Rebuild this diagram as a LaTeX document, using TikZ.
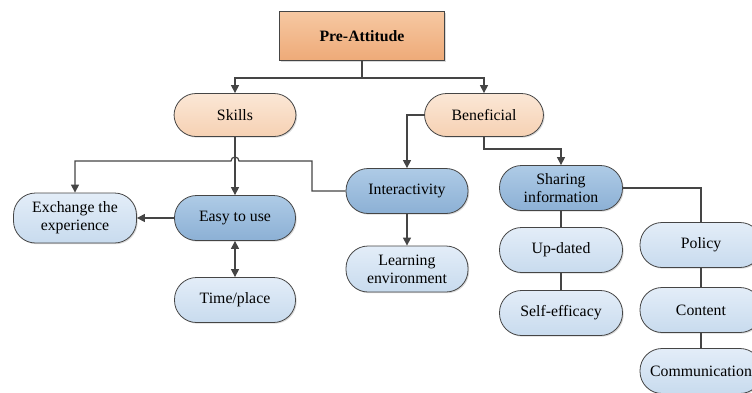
\documentclass[tikz,border=0pt]{standalone}
\usepackage{fontspec}
\setmainfont{Liberation Serif}
\usetikzlibrary{arrows.meta,shadows}

\definecolor{lineGray}{HTML}{454545}
\definecolor{preTop}{HTML}{F6C8A2}
\definecolor{preBot}{HTML}{EEAA78}
\definecolor{peachTop}{HTML}{FBE7D6}
\definecolor{peachBot}{HTML}{F6D1B3}
\definecolor{dblueTop}{HTML}{AECBE6}
\definecolor{dblueBot}{HTML}{8CB0D5}
\definecolor{lblueTop}{HTML}{E3EDF8}
\definecolor{lblueBot}{HTML}{C8DBEE}

\begin{document}
\begin{tikzpicture}[x=1pt, y=-1pt, node distance=62pt,
  base/.style={draw=lineGray, line width=0.8pt, align=center,
    font=\fontsize{15.8}{18.3}\selectfont,
    drop shadow={shadow xshift=1.2pt, shadow yshift=-1.2pt, opacity=0.3}},
  topbox/.style={base, minimum width=165pt, minimum height=49pt,
    top color=preTop, bottom color=preBot,
    font=\fontsize{15.8}{18.3}\selectfont\bfseries},
  pill/.style={base, rounded corners=22pt, minimum width=122pt, minimum height=45pt},
  peach/.style={pill, top color=peachTop, bottom color=peachBot},
  darkblue/.style={pill, top color=dblueTop, bottom color=dblueBot},
  lightblue/.style={pill, top color=lblueTop, bottom color=lblueBot},
  link/.style={draw=lineGray, line width=1.2pt},
  arr/.style={link, -{Triangle[length=8pt,width=8pt]}},
  darr/.style={link, {Triangle[length=8pt,width=8pt]}-{Triangle[length=8pt,width=8pt]}}]

  \useasboundingbox (0,0) rectangle (752,392);

  % Nodes
  \node (pre) [topbox] at (362,36) {Pre-Attitude};
  \node (skills) [peach, minimum height=43pt] at (235,115) {Skills};
  \node (benef) [peach, minimum height=43pt, minimum width=119pt] at (484,115) {Beneficial};

  \node (exch) [lightblue, minimum height=50pt, minimum width=123pt] at (75,218) {Exchange the\\experience};
  \node (easy) [darkblue, minimum width=121pt] at (235,218) {Easy to use};
  \node (time) [lightblue, minimum width=121pt, below of=easy, node distance=82pt] {Time/place};

  \node (inter) [darkblue] at (407,191) {Interactivity};
  \node (learn) [lightblue, minimum height=46pt, below of=inter, node distance=78pt] {Learning\\environment};

  \node (share) [darkblue, minimum width=123pt] at (561,188) {Sharing\\information};
  \node (upd) [lightblue, minimum width=123pt, below of=share] {Up-dated};
  \node (self) [lightblue, minimum width=123pt, below of=upd, node distance=63pt] {Self-efficacy};

  \node (policy) [lightblue] at (701,245) {Policy};
  \node (content) [lightblue, below of=policy, node distance=65pt] {Content};
  \node (comm) [lightblue, below of=content, node distance=61pt] {Communication};

  % Helper points
  \coordinate (split) at (362,78);
  \coordinate (bend) at (312,161);
  \coordinate (hopR) at (239,161);
  \coordinate (hopL) at (231,161);
  \coordinate (bjoin) at (522,149);

  % Arrows
  \draw[arr] (pre) -- (split) -| (skills);
  \draw[arr] (split) -| (benef);
  \draw[arr] (skills) -- (easy);
  \draw[arr] (inter) -| (bend) -- (hopR) arc[start angle=0, end angle=180, radius=4pt]
    -- (hopL) -- (exch.north |- bend) -- (exch);
  \draw[arr] (easy) -- (exch);
  \draw[darr] (easy) -- (time);
  \draw[arr] (benef) -| (inter);
  \draw[arr] (inter) -- (learn);
  \draw[arr] (benef.south) |- (bjoin) -| (share);
  \draw[link] (share) -- (upd);
  \draw[link] (upd) -- (self);
  \draw[link] (share) -| (policy);
  \draw[link] (policy) -- (content);
  \draw[link] (content) -- (comm);

\end{tikzpicture}
\end{document}
